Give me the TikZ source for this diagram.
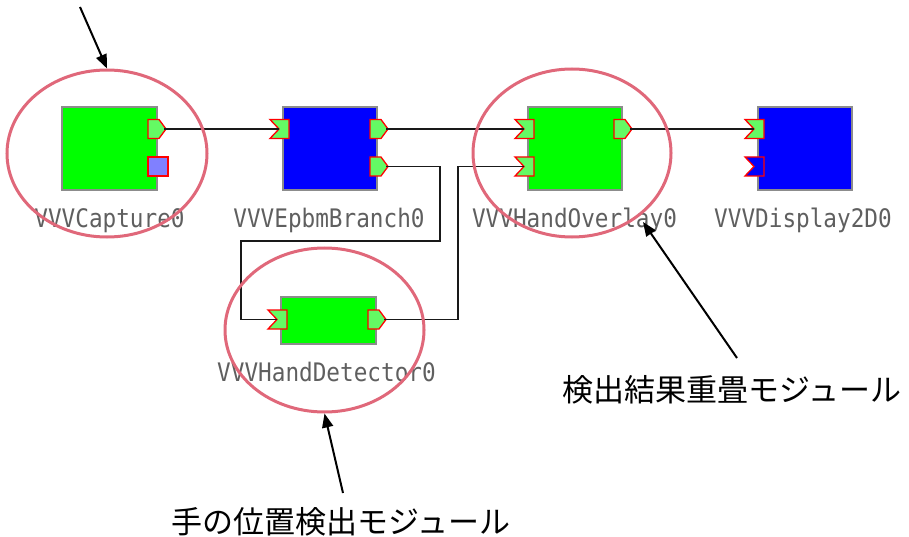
\documentclass[tikz,border=0pt]{standalone}
\usepackage{fontspec}
\newfontfamily\lblfont[FakeStretch=0.89]{DejaVu Sans Mono}
\newfontfamily\jpfont{Noto Sans CJK JP}
\usetikzlibrary{arrows.meta,shapes.geometric}
\definecolor{modgreen}{RGB}{0,255,0}
\definecolor{modblue}{RGB}{0,0,255}
\definecolor{portgreen}{RGB}{100,250,100}
\definecolor{portviolet}{RGB}{128,128,255}
\definecolor{ringred}{RGB}{224,104,122}
\definecolor{lblgray}{RGB}{95,95,95}
\newcommand\portout[4]{%
  \draw[portst,fill=#4] (#2,#3-9.5) -- (#2+11,#3-9.5) -- (#2+18,#3) -- (#2+11,#3+9.5) -- (#2,#3+9.5) -- cycle;
  \coordinate (#1) at (#2+16,#3);}
\newcommand\portin[4]{%
  \draw[portst,fill=#4] (#2,#3-9.5) -- (#2+19,#3-9.5) -- (#2+19,#3+9.5) -- (#2,#3+9.5) -- (#2+9,#3) -- cycle;
  \coordinate (#1) at (#2+9,#3);}
\begin{document}
\begin{tikzpicture}[x=1pt,y=-1pt,
  modbox/.style={draw=gray!90,line width=1.2pt,inner sep=0pt,outer sep=0pt},
  portst/.style={draw=red,line width=1.3pt,line join=miter},
  conn/.style={draw=black!90,line width=1.4pt},
  lbl/.style={anchor=base,text=lblgray,inner sep=0pt,font=\lblfont\fontsize{25.5}{25.5}\selectfont},
  ring/.style={ellipse,draw=ringred,line width=3pt,inner sep=0pt},
  callout/.style={draw=black,line width=2pt,-{Triangle[length=14pt,width=11pt]}},
  jp/.style={inner sep=0pt,font=\jpfont\fontsize{31}{31}\selectfont}]
\useasboundingbox (0,0) rectangle (909,537);
% modules
\node[modbox,fill=modgreen,minimum width=95pt,minimum height=83pt] (cap) at (109.5,148.5) {};
\node[modbox,fill=modblue,minimum width=94pt,minimum height=83pt] (br) at (330,148.5) {};
\node[modbox,fill=modgreen,minimum width=94pt,minimum height=83pt] (ov) at (575,148.5) {};
\node[modbox,fill=modblue,minimum width=94pt,minimum height=83pt] (disp) at (805,148.5) {};
\node[modbox,fill=modgreen,minimum width=95pt,minimum height=47pt] (det) at (328.5,320.5) {};
% ports
\portout{capout}{148}{129}{portgreen}
\draw[portst,fill=portviolet] (148,157) rectangle (168,176);
\portin{brin}{270}{129}{portgreen}
\portout{brout1}{370}{129}{portgreen}
\portout{brout2}{370}{166.5}{portgreen}
\portin{ovin1}{515}{129}{portgreen}
\portin{ovin2}{515}{166.5}{portgreen}
\portout{ovout}{614}{129}{portgreen}
\portin{dispin1}{745}{129}{portgreen}
\portin{dispin2}{745}{166.5}{modblue}
\portin{detin}{268}{319.5}{portgreen}
\portout{detout}{368}{319.5}{portgreen}
% connectors
\draw[conn] (capout) -- (brin);
\draw[conn] (brout1) -- (ovin1);
\draw[conn] (ovout) -- (dispin1);
\draw[conn] (brout2) -- (440,166.5) -- (440,241) -- (241,241) |- (detin);
\draw[conn] (detout) -| (458,166.5) -- (ovin2);
% labels
\node[lbl] (caplbl) at (109.5,228) {VVVCapture0};
\node[lbl] (brlbl) at (329,227) {VVVEpbmBranch0};
\node[lbl] (ovlbl) at (574.5,228) {VVVHandOverlay0};
\node[lbl] (displbl) at (803,227) {VVVDisplay2D0};
\node[lbl] (detlbl) at (326.5,381) {VVVHandDetector0};
% rings
\node[ring,minimum width=200pt,minimum height=167pt] (capring) at (107,153.5) {};
\node[ring,minimum width=198pt,minimum height=168pt] (ovring) at (572,153) {};
\node[ring,minimum width=199pt,minimum height=164pt] (detring) at (324.5,330) {};
% callouts
\node[jp] (ovtext) at (732,390) {検出結果重畳モジュール};
\node[jp] (dettext) at (341,522) {手の位置検出モジュール};
\coordinate (c1s) at (80,7);
\coordinate (c2s) at (737,358);
\coordinate (c2e) at (643,222);
\coordinate (c3s) at (343,493);
\draw[callout] (c1s) -- (capring.north);
\draw[callout] (c2s) -- (c2e);
\draw[callout] (c3s) -- (detring.south);
\end{tikzpicture}
\end{document}
